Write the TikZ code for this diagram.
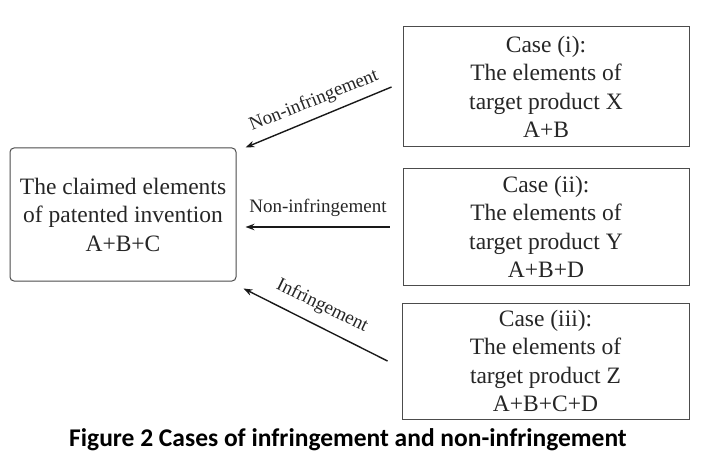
\documentclass[tikz,border=0pt]{standalone}
\usepackage{fontspec}
\setmainfont{Liberation Serif}
\newfontfamily\capfont{Carlito}
\usetikzlibrary{arrows.meta}
\begin{document}
\begin{tikzpicture}[x=1pt,y=-1pt,
  box/.style={draw=black!70, line width=1pt, inner sep=0pt, align=center,
    font=\fontsize{23.5}{28.5}\selectfont, text=black!85},
  arr/.style={-{Stealth[length=9pt,width=6.5pt]}, line width=1.4pt, draw=black!90},
  lbl/.style={font=\fontsize{19}{22}\selectfont, inner sep=0pt, text=black!85}]
\useasboundingbox[fill=white] (0,0) rectangle (725,465);
\node[box, rounded corners=4pt, minimum width=226pt, minimum height=133pt] (claim) at (123,214.5)
  {The claimed elements\\of patented invention\\A+B+C};
\node[box, minimum width=286pt, minimum height=120pt] (c1) at (546,87)
  {Case (i):\\The elements of\\target product X\\A+B};
\node[box, minimum width=286pt, minimum height=116pt] (c2) at (546,227)
  {Case (ii):\\The elements of\\target product Y\\A+B+D};
\node[box, minimum width=287pt, minimum height=116pt] (c3) at (545.5,361)
  {Case (iii):\\The elements of\\target product Z\\A+B+C+D};
\draw[arr] ([xshift=-11pt]c1.west) -- ([shift={(9,0)}]claim.north east);
\draw[arr] ([xshift=-13pt]c2.west) -- ([shift={(9,12.5)}]claim.east);
\draw[arr] ([xshift=-14pt]c3.west) -- ([shift={(7,7)}]claim.south east);
\node[lbl, rotate=22] (l1) at (314,101) {Non-infringement};
\node[lbl] (l2) at (318,208) {Non-infringement};
\node[lbl, rotate=-26] (l3) at (322,306) {Infringement};
\node[font=\capfont\bfseries\fontsize{25.5}{30}\selectfont, inner sep=0pt] (cap) at (348,440)
  {Figure 2 Cases of infringement and non-infringement};
\end{tikzpicture}
\end{document}
